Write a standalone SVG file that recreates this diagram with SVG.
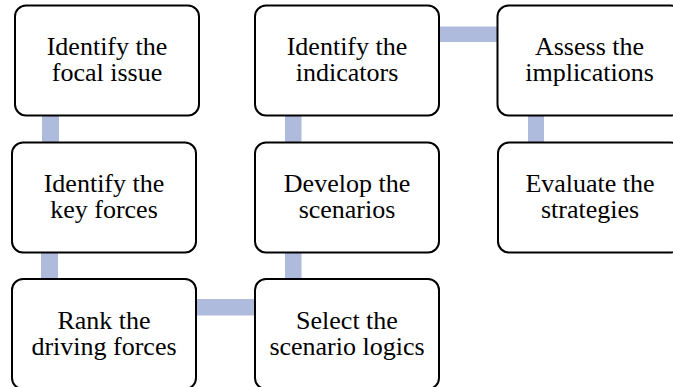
<svg xmlns="http://www.w3.org/2000/svg" width="673" height="387" viewBox="0 0 673 387">
  <style>
    .box { fill: #ffffff; stroke: #000000; stroke-width: 2; }
    .conn { fill: #AFBBDD; stroke: none; }
    .lbl { font-family: "Liberation Serif", "Times New Roman", serif; font-size: 26px; fill: #000000; text-anchor: middle; }
  </style>
  <rect width="673" height="387" fill="#ffffff"/>
  <g id="connectors">
    <rect class="conn" x="42" y="110" width="17" height="38"/>
    <rect class="conn" x="41" y="247" width="17" height="38"/>
    <rect class="conn" x="190" y="299" width="70" height="16.5"/>
    <rect class="conn" x="285" y="247" width="16.5" height="38"/>
    <rect class="conn" x="285" y="110" width="16.5" height="38"/>
    <rect class="conn" x="433" y="26.5" width="70" height="15.5"/>
    <rect class="conn" x="528" y="110" width="16" height="38"/>
  </g>
  <g id="n1">
    <rect class="box" x="15" y="5.5" width="184" height="110" rx="11"/>
    <text class="lbl" x="107" y="55">Identify the</text>
    <text class="lbl" x="107" y="81">focal issue</text>
  </g>
  <g id="n2">
    <rect class="box" x="12" y="142.5" width="184" height="110" rx="11"/>
    <text class="lbl" x="104" y="191.5">Identify the</text>
    <text class="lbl" x="104" y="217.5">key forces</text>
  </g>
  <g id="n3">
    <rect class="box" x="12" y="279" width="184" height="110" rx="11"/>
    <text class="lbl" x="104" y="328.5">Rank the</text>
    <text class="lbl" x="104" y="354.5">driving forces</text>
  </g>
  <g id="n4">
    <rect class="box" x="255" y="279" width="184" height="110" rx="11"/>
    <text class="lbl" x="347" y="328.5">Select the</text>
    <text class="lbl" x="347" y="354.5">scenario logics</text>
  </g>
  <g id="n5">
    <rect class="box" x="255" y="142.5" width="184" height="110" rx="11"/>
    <text class="lbl" x="347" y="191.5">Develop the</text>
    <text class="lbl" x="347" y="217.5">scenarios</text>
  </g>
  <g id="n6">
    <rect class="box" x="255" y="5.5" width="184" height="110" rx="11"/>
    <text class="lbl" x="347" y="55">Identify the</text>
    <text class="lbl" x="347" y="81">indicators</text>
  </g>
  <g id="n7">
    <rect class="box" x="497.5" y="5.5" width="184" height="110" rx="11"/>
    <text class="lbl" x="589.5" y="55">Assess the</text>
    <text class="lbl" x="589.5" y="81">implications</text>
  </g>
  <g id="n8">
    <rect class="box" x="498" y="142.5" width="184" height="110" rx="11"/>
    <text class="lbl" x="590" y="191.5">Evaluate the</text>
    <text class="lbl" x="590" y="217.5">strategies</text>
  </g>
</svg>
